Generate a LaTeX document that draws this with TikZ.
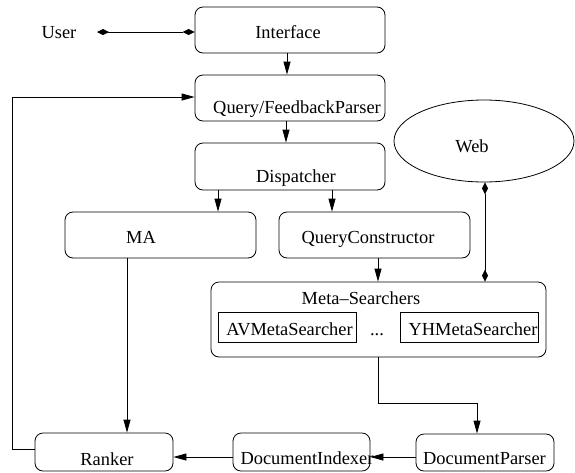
\documentclass[tikz,border=0pt]{standalone}
\usepackage{fontspec}
\setmainfont{Liberation Serif}
\usetikzlibrary{arrows.meta,shapes.geometric}
\begin{document}
\begin{tikzpicture}[x=1pt,y=-1pt,
  line width=0.8pt,
  box/.style={draw, rounded corners=8pt, inner sep=0pt},
  sbox/.style={draw, inner sep=0pt},
  txt/.style={anchor=base, inner sep=0pt, font=\fontsize{18.4}{22}\selectfont},
  arr/.style={-{Triangle[length=13pt,width=7pt]}},
  dia/.style={{Diamond[length=12pt,width=6pt]}-{Diamond[length=12pt,width=6pt]}}]
\useasboundingbox (0,0) rectangle (575,472);
% boxes
\node[box, minimum width=190pt, minimum height=46pt] (interface) at (290,30) {};
\node[box, minimum width=190pt, minimum height=46pt] (qfp) at (290,98) {};
\node[box, minimum width=190pt, minimum height=47pt] (disp) at (290,166.5) {};
\node[box, minimum width=191pt, minimum height=46pt] (ma) at (160.5,235) {};
\node[box, minimum width=191pt, minimum height=46pt] (qc) at (374.5,235) {};
\node[draw, ellipse, inner sep=0pt, minimum width=180pt, minimum height=82pt] (web) at (484,141) {};
\node[box, minimum width=335pt, minimum height=75pt] (meta) at (378.5,319.5) {};
\node[sbox, minimum width=138pt, minimum height=30pt] (av) at (287,327) {};
\node[sbox, minimum width=138pt, minimum height=30pt] (yh) at (469,327) {};
\node[box, minimum width=138pt, minimum height=38pt] (ranker) at (104,452) {};
\node[box, minimum width=137pt, minimum height=38pt] (di) at (301.5,452) {};
\node[box, minimum width=138pt, minimum height=37pt] (dp) at (485,452.5) {};
% texts
\node[txt] (user) at (59,38) {User};
\node[txt] (tinterface) at (288,38) {Interface};
\node[txt] (tqfp) at (297,113) {Query/FeedbackParser};
\node[txt] (tdisp) at (296,182) {Dispatcher};
\node[txt] (tma) at (141,243) {MA};
\node[txt] (tqc) at (368,243) {QueryConstructor};
\node[txt] (tweb) at (472,152) {Web};
\node[txt] (tmeta) at (361,304) {Meta–Searchers};
\node[txt] (tav) at (289.5,335) {AVMetaSearcher};
\node[txt] (tdots) at (377,335) {...};
\node[txt] (tyh) at (473,335) {YHMetaSearcher};
\node[txt] (tranker) at (107,465) {Ranker};
\node[txt] (tdi) at (307,464) {DocumentIndexer};
\node[txt] (tdp) at (484.5,464) {DocumentParser};
% helper coordinates
\coordinate (uy) at (97,32);
\coordinate (x1) at (287,0);
\coordinate (x2) at (286,0);
\coordinate (xma) at (218,0);
\coordinate (xqc) at (332,0);
\coordinate (xmeta) at (378,0);
\coordinate (xweb) at (485,0);
\coordinate (xranker) at (127,0);
\coordinate (bend1) at (378,403);
\coordinate (bend2) at (477,403);
\coordinate (hy) at (0,457);
\coordinate (lp1) at (12,449);
\coordinate (lp2) at (12,97);
% connectors
\draw[dia] (uy) -- (interface.west |- uy);
\draw[arr] (interface.south -| x1) -- (qfp.north -| x1);
\draw[arr] (qfp.south -| x2) -- (disp.north -| x2);
\draw[arr] (disp.south -| xma) -- (ma.north -| xma);
\draw[arr] (disp.south -| xqc) -- (qc.north -| xqc);
\draw[arr] (qc.south -| xmeta) -- (meta.north -| xmeta);
\draw[dia] (web.south -| xweb) -- (meta.north -| xweb);
\draw[arr] (meta.south -| bend1) -- (bend1) -- (bend2) -- (dp.north -| bend2);
\draw[arr] (ma.south -| xranker) -- (ranker.north -| xranker);
\draw[arr] (dp.west |- hy) -- (di.east |- hy);
\draw[arr] (di.west |- hy) -- (ranker.east |- hy);
\draw[arr] (ranker.west |- lp1) -- (lp1) -- (lp2) -- (qfp.west |- lp2);
\end{tikzpicture}
\end{document}
